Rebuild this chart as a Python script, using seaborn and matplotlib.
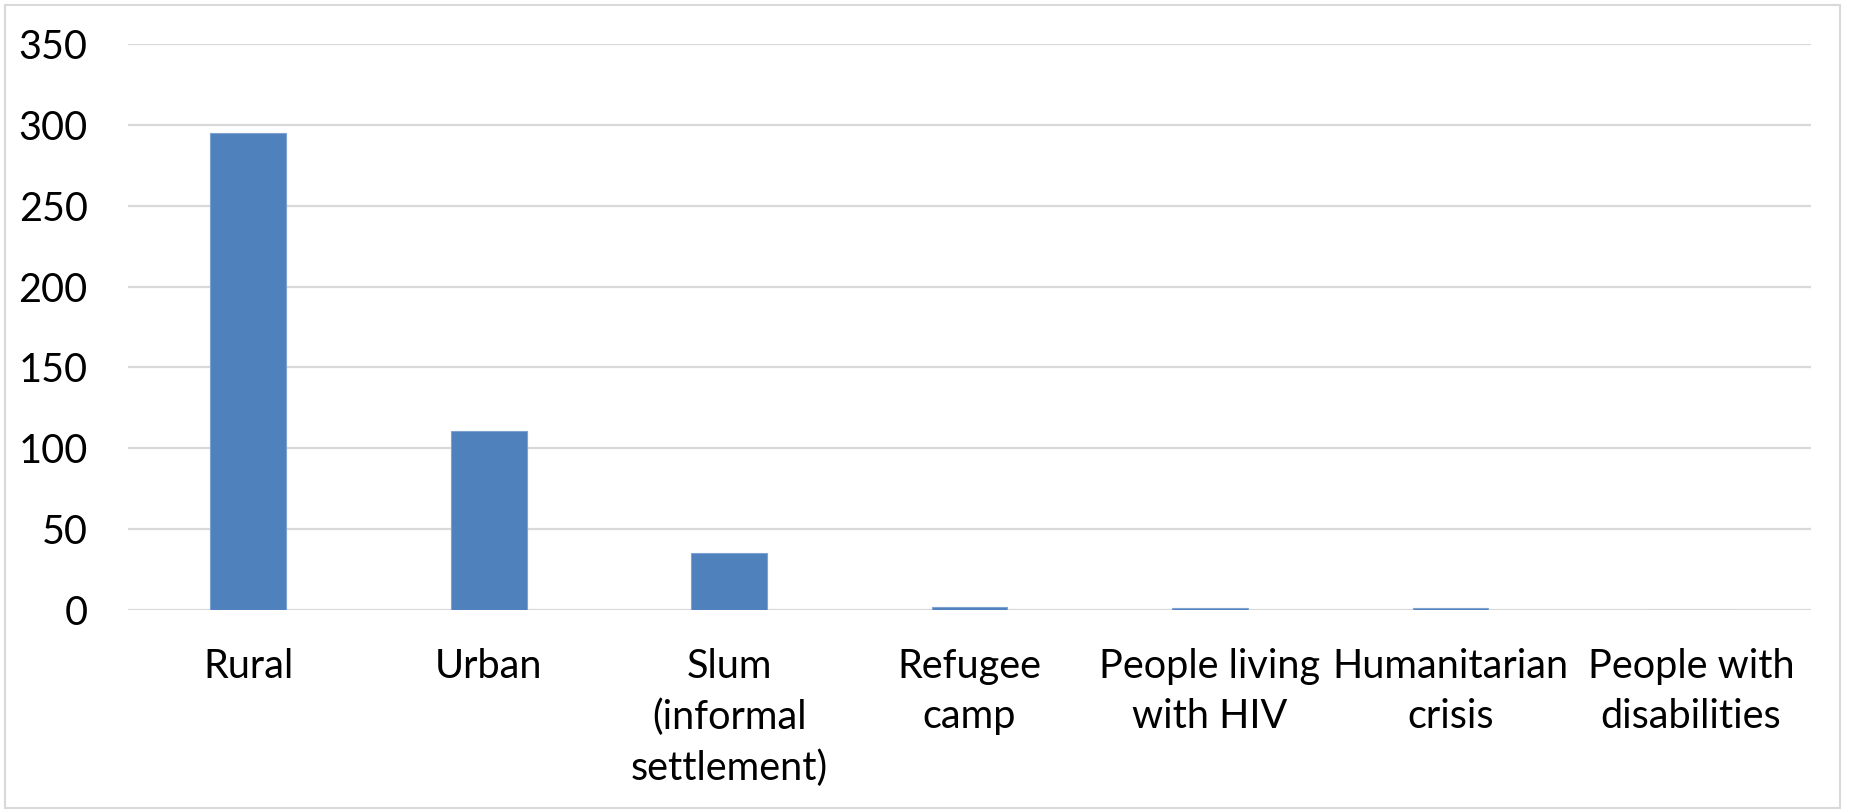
import matplotlib
matplotlib.use("Agg")
import matplotlib.pyplot as plt
from matplotlib.patches import Rectangle
import seaborn as sns
import pandas as pd

categories = [
    "Rural",
    "Urban",
    "Slum\n(informal\nsettlement)",
    "Refugee\ncamp",
    "People living\nwith HIV",
    "Humanitarian\ncrisis",
    "People with\ndisabilities",
]
counts = [295, 111, 35, 2, 1, 1, 0]
y_ticks = [0, 50, 100, 150, 200, 250, 300, 350]

sns.set_theme(style="white")
plt.rcParams["font.family"] = ["Lato", "DejaVu Sans"]

df = pd.DataFrame({"category": categories, "count": counts})

fig = plt.figure(figsize=(18.5, 8.11), dpi=100)
ax = fig.add_axes([0.0692, 0.2478, 0.9098, 0.6979])

sns.barplot(data=df, x="category", y="count", color="#4f81bd",
            saturation=1, width=0.315, edgecolor="#7da2d1", linewidth=0.8,
            ax=ax, zorder=3)

ax.set_xlim(-0.5, len(categories) - 0.5)
ax.set_ylim(0, 350)
ax.set_yticks(y_ticks)
ax.set_yticklabels([str(v) for v in y_ticks])
ax.set_xlabel("")
ax.set_ylabel("")

ax.yaxis.grid(True, color="#d9d9d9", linewidth=1.6, zorder=0)
ax.xaxis.grid(False)
ax.set_axisbelow(True)
for side in ["top", "right", "left", "bottom"]:
    ax.spines[side].set_visible(False)

ax.tick_params(axis="y", length=0, pad=29, labelsize=28.5, labelcolor="black")
ax.tick_params(axis="x", length=0, pad=27, labelsize=28.5, labelcolor="black")
for lbl in ax.get_xticklabels():
    lbl.set_linespacing(1.45)
    lbl.set_horizontalalignment("center")
    lbl.set_multialignment("center")

fig.patches.append(Rectangle((5 / 1850, 3 / 811), 1835 / 1850, 803 / 811,
                             transform=fig.transFigure, fill=False,
                             edgecolor="#d9d9d9", linewidth=1.5))

fig.savefig("out.png", dpi=100, facecolor="white")
